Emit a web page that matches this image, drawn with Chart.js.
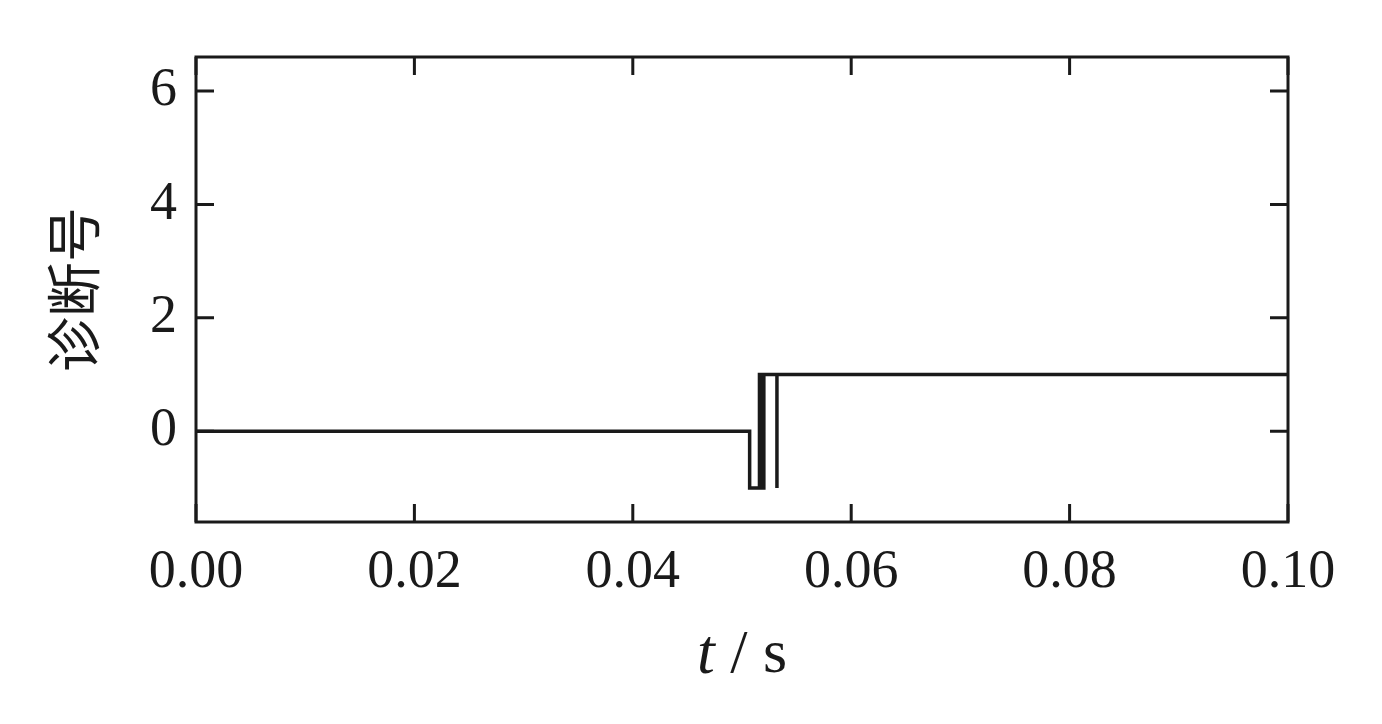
<!DOCTYPE html>
<html>
<head>
<meta charset="utf-8">
<script src="https://cdn.jsdelivr.net/npm/chart.js@4.4.1/dist/chart.umd.min.js"></script>
<style>
  html, body { margin:0; padding:0; background:#fff; }
  #wrap { width:1382px; height:724px; }
</style>
</head>
<body>
<div id="wrap"><canvas id="diag"></canvas></div>
<script>
// diagnosis signal, stepped: value holds until the next time
var times  = [0, 0.0507, 0.0516, 0.0518, 0.0520, 0.0532, 0.0532, 0.1];
var values = [0, -1, 1, -1, 1, -1, 1, 1];
var xTicks = [0, 0.02, 0.04, 0.06, 0.08, 0.10];
var yTicks = [0, 2, 4, 6];

var pts = [];
for (var i = 0; i < times.length; i++) {
  pts.push({x: times[i], y: values[i]});
}

var serif = "'Liberation Serif', 'DejaVu Serif', serif";

// inner ticks on all four sides + x title with italic t
var frameTicks = {
  id: 'frameTicks',
  afterDraw: function(chart) {
    var c = chart.ctx, a = chart.chartArea;
    var xs = chart.scales.x, ys = chart.scales.y;
    var len = 18;
    c.save();
    c.strokeStyle = '#1a1a1a';
    c.lineWidth = 3;
    c.strokeRect(a.left, a.top, a.right - a.left, a.bottom - a.top);
    c.beginPath();
    xTicks.forEach(function(v) {
      var px = xs.getPixelForValue(v);
      c.moveTo(px, a.bottom); c.lineTo(px, a.bottom - len);
      c.moveTo(px, a.top); c.lineTo(px, a.top + len);
    });
    yTicks.forEach(function(v) {
      var py = ys.getPixelForValue(v);
      c.moveTo(a.left, py); c.lineTo(a.left + len, py);
      c.moveTo(a.right, py); c.lineTo(a.right - len, py);
    });
    c.stroke();

    // x axis title "t / s"
    c.fillStyle = '#1a1a1a';
    c.textBaseline = 'middle';
    c.textAlign = 'left';
    var f1 = 'italic 64px ' + serif, f2 = '62px ' + serif;
    c.font = f1; var w1 = c.measureText('t').width;
    c.font = f2; var w2 = c.measureText(' / s').width;
    var cx = (a.left + a.right) / 2, x0 = cx - (w1 + w2) / 2, ty = 656;
    c.font = f1; c.fillText('t', x0, ty);
    c.font = f2; c.fillText(' / s', x0 + w1, ty);
    c.restore();
  }
};

var chart = new Chart(document.getElementById('diag'), {
  type: 'line',
  data: {
    datasets: [{
      label: '诊断号',
      data: pts,
      stepped: 'before',
      borderColor: '#1a1a1a',
      borderWidth: 3.5,
      pointRadius: 0,
      fill: false
    }]
  },
  options: {
    responsive: true,
    maintainAspectRatio: false,
    animation: false,
    layout: { padding: { top: 57, right: 94, left: 0, bottom: 0 } },
    plugins: { legend: { display: false }, tooltip: { enabled: false } },
    scales: {
      x: {
        type: 'linear',
        min: 0, max: 0.1,
        afterBuildTicks: function(s) { s.ticks = xTicks.map(function(v){ return {value: v}; }); },
        afterFit: function(s) { s.height = 202; },
        grid: { display: false, drawTicks: false },
        border: { display: false },
        ticks: {
          padding: 18,
          color: '#1a1a1a',
          font: { family: serif, size: 54 },
          maxRotation: 0,
          callback: function(v) { return Number(v).toFixed(2); }
        }
      },
      y: {
        min: -1.6, max: 6.6,
        afterBuildTicks: function(s) { s.ticks = yTicks.map(function(v){ return {value: v}; }); },
        afterFit: function(s) { s.width = 196; },
        grid: { display: false, drawTicks: false },
        border: { display: false },
        ticks: {
          padding: 19,
          color: '#1a1a1a',
          font: { family: serif, size: 54 }
        },
        title: {
          display: true,
          text: '诊断号',
          color: '#1a1a1a',
          font: { family: "'Noto Sans CJK SC', sans-serif", size: 55 },
          padding: { top: 40, bottom: 0 }
        }
      }
    }
  },
  plugins: [frameTicks]
});
</script>
</body>
</html>
